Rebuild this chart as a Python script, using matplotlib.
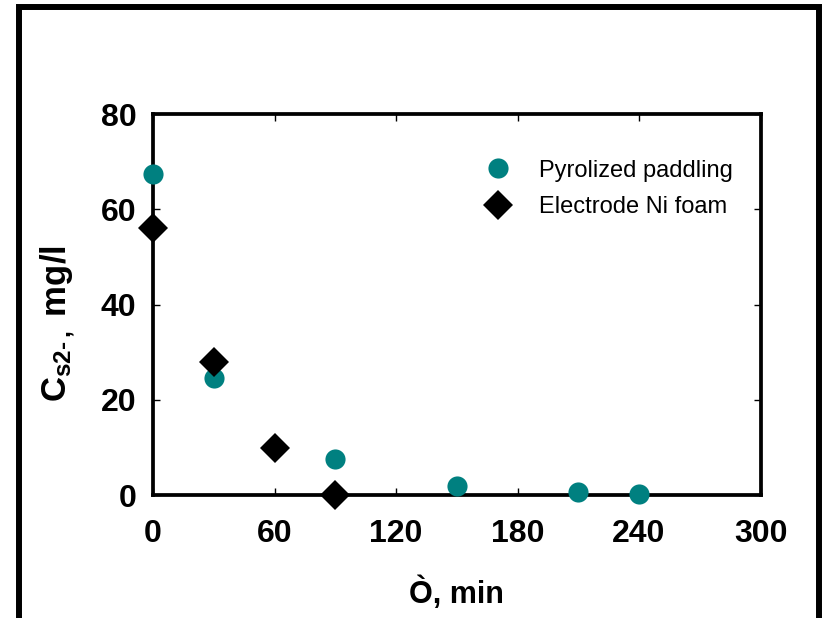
import matplotlib
matplotlib.use("Agg")
import matplotlib.pyplot as plt
from matplotlib.patches import Rectangle
from matplotlib.lines import Line2D

plt.rcParams['font.family'] = ['Liberation Sans', 'DejaVu Sans']
plt.rcParams['mathtext.fontset'] = 'custom'
plt.rcParams['mathtext.rm'] = 'Liberation Sans:bold'
plt.rcParams['mathtext.it'] = 'Liberation Sans:bold'
plt.rcParams['mathtext.bf'] = 'Liberation Sans:bold'

# Data
pyro_t = [0, 30, 90, 150, 210, 240]
pyro_c = [67.4, 24.6, 7.6, 1.9, 0.6, 0.2]
elec_t = [0, 30, 60, 90]
elec_c = [56, 28, 9.9, 0]
x_ticks = [0, 60, 120, 180, 240, 300]
y_ticks = [0, 20, 40, 60, 80]
series_labels = ["Pyrolized paddling", "Electrode Ni foam"]
teal = "#008080"

fig = plt.figure(figsize=(8.23, 6.18), dpi=100)
ax = fig.add_axes([0.1859, 0.1986, 0.9241 - 0.1859, 0.8155 - 0.1986])

ax.plot(pyro_t, pyro_c, linestyle='none', marker='o', markersize=14.5,
        color=teal, markeredgewidth=0, clip_on=False, zorder=5,
        label=series_labels[0])
ax.plot(elec_t, elec_c, linestyle='none', marker='D', markersize=15.5,
        color='black', markeredgewidth=0, clip_on=False, zorder=6,
        label=series_labels[1])

ax.set_xlim(0, 300)
ax.set_ylim(0, 80)
ax.set_xticks(x_ticks)
ax.set_yticks(y_ticks)
ax.tick_params(direction='in', length=5, width=1, top=True, right=True,
               labelsize=23)
ax.tick_params(axis='x', pad=17)
ax.tick_params(axis='y', pad=12)
for lab in ax.get_xticklabels() + ax.get_yticklabels():
    lab.set_fontweight('bold')
for s in ax.spines.values():
    s.set_linewidth(2.7)

ax.set_xlabel("Ò, min", fontsize=22, fontweight='bold', labelpad=20)
ax.set_ylabel(r"C$_{\mathrm{s2\text{-}\,,}}$ mg/l", fontsize=25, fontweight='bold')
ax.yaxis.set_label_coords(-0.125, 0.45)

handles = [
    Line2D([], [], linestyle='none', marker='o', markersize=14.5, color=teal, markeredgewidth=0),
    Line2D([], [], linestyle='none', marker='D', markersize=15.5, color='black', markeredgewidth=0),
]
ax.legend(handles, series_labels, loc='upper left', bbox_to_anchor=(0.513, 0.905),
          frameon=False, fontsize=17, handletextpad=0.75, labelspacing=0.6,
          borderaxespad=0)

fig.add_artist(Rectangle((0.0231, -0.05), 0.9951 - 0.0231, 0.9887 + 0.05,
                         transform=fig.transFigure, fill=False,
                         edgecolor='black', linewidth=4.3))

fig.savefig("out.png", dpi=100)
